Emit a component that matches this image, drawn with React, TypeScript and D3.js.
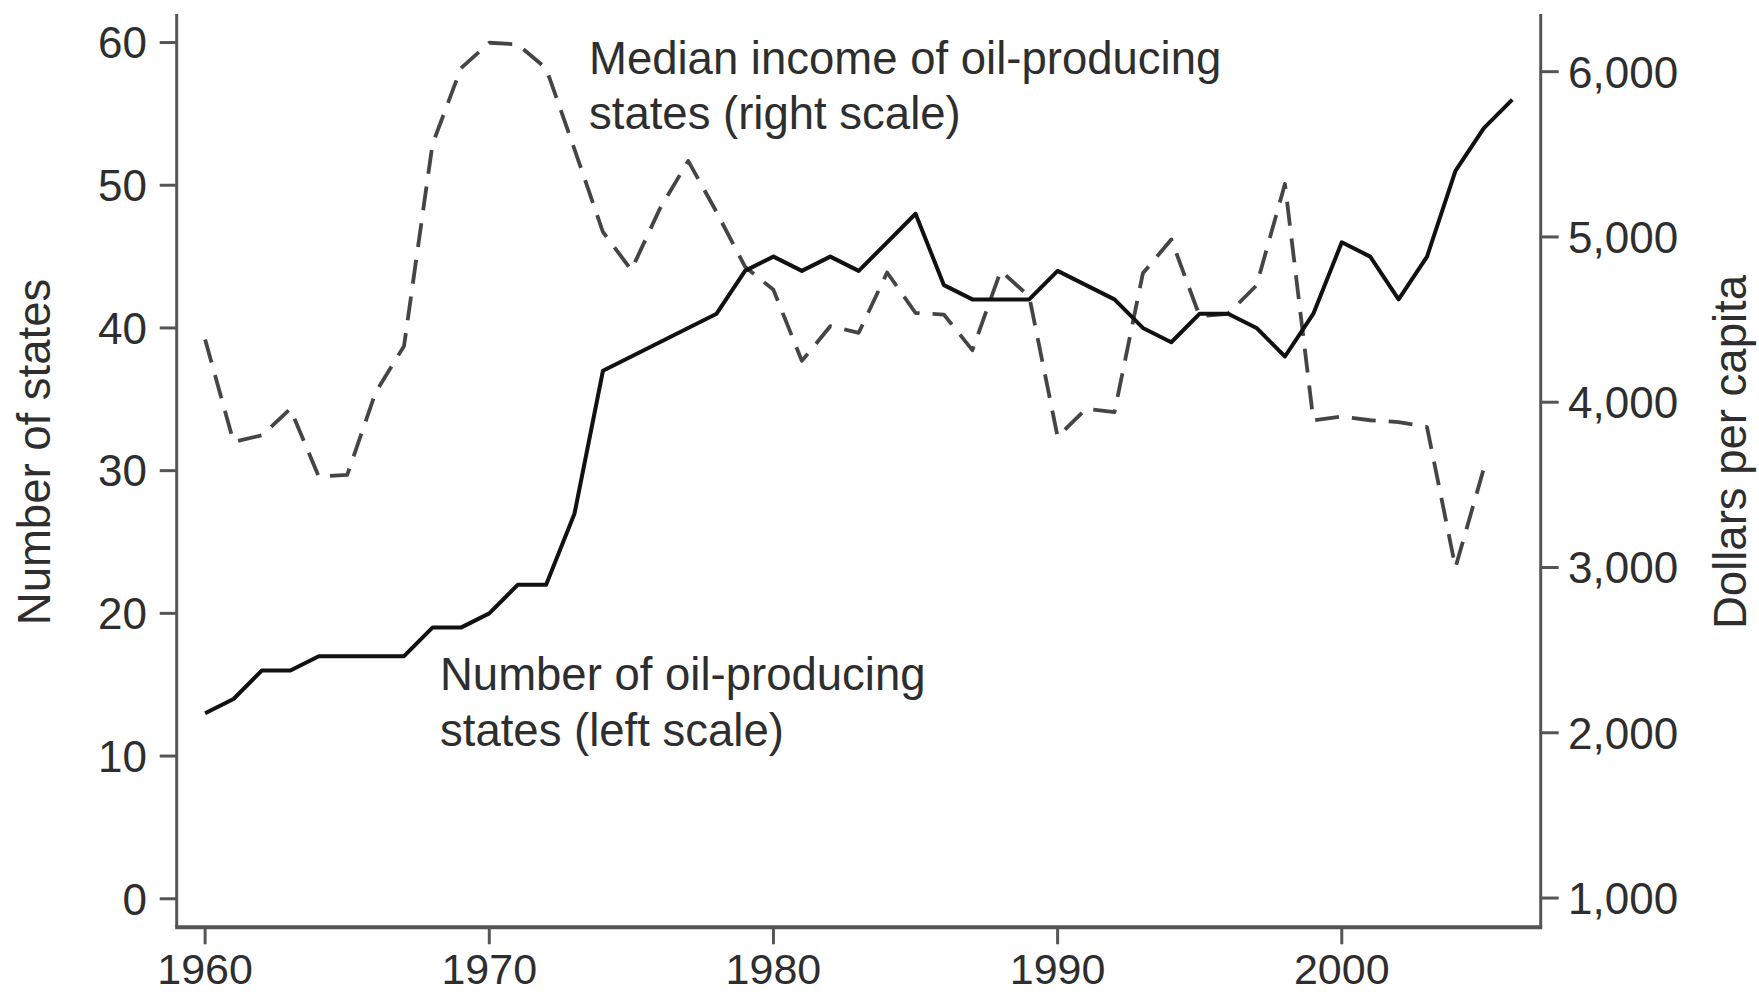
import React from "react";
import * as d3 from "d3";

const years: number[] = d3.range(1960, 2007);
const numStates: number[] = [
  13, 14, 16, 16, 17, 17, 17, 17, 19, 19,
  20, 22, 22, 27, 37, 38, 39, 40, 41, 44,
  45, 44, 45, 44, 46, 48, 43, 42, 42, 42,
  44, 43, 42, 40, 39, 41, 41, 40, 38, 41,
  46, 45, 42, 45, 51, 54, 56,
];
const incomeYears: number[] = d3.range(1960, 2006);
const medianIncome: number[] = [
  4380, 3760, 3800, 3960, 3550, 3560, 4060, 4340, 5560, 6020,
  6175, 6165, 6020, 5530, 5030, 4800, 5170, 5460, 5150, 4820,
  4680, 4250, 4460, 4420, 4785, 4540, 4530, 4315, 4795, 4640,
  3790, 3960, 3940, 4780, 4985, 4520, 4535, 4707, 5320, 3890,
  3913, 3891, 3880, 3850, 3000, 3600,
];
const xTicks: number[] = [1960, 1970, 1980, 1990, 2000];
const leftTicks: number[] = [0, 10, 20, 30, 40, 50, 60];
const rightTicks: number[] = [1000, 2000, 3000, 4000, 5000, 6000];

const W = 1759;
const H = 994;
const L = 176.7;
const R = 1540.7;
const T = 14;
const B = 927.3;

const FONT = "'Liberation Sans', Arial, Helvetica, sans-serif";
const TEXT = "#2e2e2e";
const AXIS = "#555";

export default function App() {
  const x = d3.scaleLinear().domain([1959, 2007]).range([L, R]);
  const yL = d3.scaleLinear().domain([-2, 62]).range([B, T]);
  const yR = d3.scaleLinear().domain([823, 6349]).range([B, T]);

  const solid = d3
    .line<number>()
    .x((_, i) => x(years[i]))
    .y((d) => yL(d))(numStates);
  const dashed = d3
    .line<number>()
    .x((_, i) => x(incomeYears[i]))
    .y((d) => yR(d))(medianIncome);

  const fmt = d3.format(",");

  return (
    <svg
      width={W}
      height={H}
      style={{ position: "absolute", left: 0, top: 0, display: "block", background: "#fff" }}
      fontFamily={FONT}
    >
      <rect x={0} y={0} width={W} height={H} fill="#fff" />
      {/* axes */}
      <line x1={L} x2={L} y1={T} y2={B} stroke={AXIS} strokeWidth={3} />
      <line x1={R} x2={R} y1={T} y2={B} stroke={AXIS} strokeWidth={3} />
      <line x1={L - 1.5} x2={R + 1.5} y1={B} y2={B} stroke={AXIS} strokeWidth={4} />

      {leftTicks.map((t) => (
        <g key={"l" + t}>
          <line x1={L - 17} x2={L} y1={yL(t)} y2={yL(t)} stroke={AXIS} strokeWidth={3} />
          <text x={147} y={yL(t)} dy="0.36em" textAnchor="end" fontSize={44} fill={TEXT}>
            {t}
          </text>
        </g>
      ))}
      {rightTicks.map((t) => (
        <g key={"r" + t}>
          <line x1={R} x2={R + 18} y1={yR(t)} y2={yR(t)} stroke={AXIS} strokeWidth={3} />
          <text x={1568} y={yR(t)} dy="0.36em" textAnchor="start" fontSize={44} fill={TEXT}>
            {fmt(t)}
          </text>
        </g>
      ))}
      {xTicks.map((t) => (
        <g key={"x" + t}>
          <line x1={x(t)} x2={x(t)} y1={B} y2={B + 17} stroke={AXIS} strokeWidth={3} />
          <text x={x(t)} y={984} textAnchor="middle" fontSize={43} fill={TEXT}>
            {t}
          </text>
        </g>
      ))}

      {/* axis titles */}
      <text
        transform={`translate(50,452) rotate(-90)`}
        textAnchor="middle"
        fontSize={45.5}
        fill={TEXT}
      >
        Number of states
      </text>
      <text
        transform={`translate(1746,452) rotate(-90)`}
        textAnchor="middle"
        fontSize={45.5}
        fill={TEXT}
      >
        Dollars per capita
      </text>

      {/* series */}
      <path
        d={dashed || ""}
        fill="none"
        stroke="#454545"
        strokeWidth={3.8}
        strokeDasharray="24,13"
        strokeLinejoin="round"
      />
      <path
        d={solid || ""}
        fill="none"
        stroke="#111"
        strokeWidth={4}
        strokeLinejoin="round"
      />

      {/* annotations */}
      <text fontSize={45.5} fill={TEXT}>
        <tspan x={589} y={74}>Median income of oil-producing</tspan>
        <tspan x={589} y={129}>states (right scale)</tspan>
      </text>
      <text fontSize={45.5} fill={TEXT}>
        <tspan x={440} y={690}>Number of oil-producing</tspan>
        <tspan x={440} y={746}>states (left scale)</tspan>
      </text>
    </svg>
  );
}
